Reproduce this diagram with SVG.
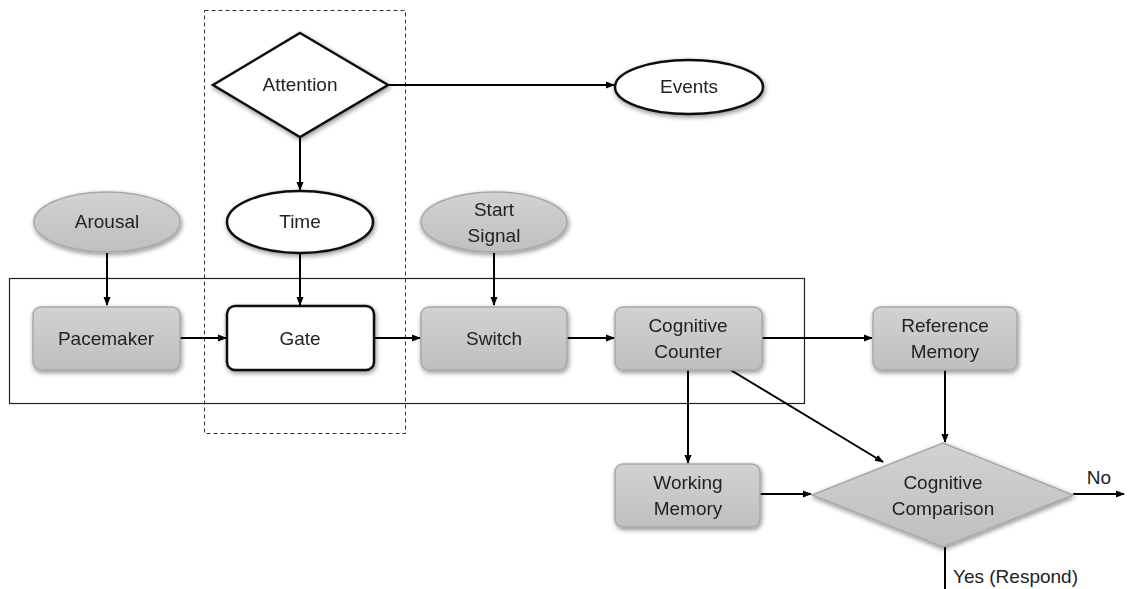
<svg xmlns="http://www.w3.org/2000/svg" width="1128" height="589" viewBox="0 0 1128 589">
<style>
text{font-family:"Liberation Sans",Arial,sans-serif;font-size:19px;fill:#222;text-anchor:middle}
.g{fill:url(#gg);stroke:#a8a8a8;stroke-width:1.5}
.w{fill:#fff;stroke:#111;stroke-width:2.5}
.c{stroke:#000;stroke-width:2;fill:none}
.arr{marker-end:url(#ah)}
</style>
<defs>
<linearGradient id="gg" x1="0" y1="0" x2="0" y2="1">
<stop offset="0" stop-color="#d2d2d2"/><stop offset="1" stop-color="#bfbfbf"/>
</linearGradient>
<filter id="sh" x="-20%" y="-20%" width="140%" height="150%">
<feGaussianBlur in="SourceAlpha" stdDeviation="2.5"/>
<feOffset dx="1" dy="2" result="b"/>
<feComponentTransfer><feFuncA type="linear" slope="0.45"/></feComponentTransfer>
<feMerge><feMergeNode/><feMergeNode in="SourceGraphic"/></feMerge>
</filter>
<marker id="ah" markerWidth="9" markerHeight="8" refX="8" refY="4" orient="auto" markerUnits="userSpaceOnUse">
<path d="M0,0.5 L9,4 L0,7.5 Z" fill="#000"/>
</marker>
</defs>
<rect width="1128" height="589" fill="#fff"/>
<g id="frames">
<rect x="204.5" y="10.5" width="201" height="423" fill="none" stroke="#333" stroke-width="1" stroke-dasharray="4,3"/>
<rect x="9.5" y="278.5" width="795" height="125" fill="none" stroke="#222" stroke-width="1.2"/>
</g>
<g id="connectors">
<line class="c arr" x1="388" y1="85" x2="614" y2="85"/>
<line class="c arr" x1="300" y1="137" x2="300" y2="190"/>
<line class="c arr" x1="107" y1="253" x2="107" y2="305"/>
<line class="c arr" x1="300" y1="253" x2="300" y2="305"/>
<line class="c arr" x1="494" y1="253" x2="494" y2="305"/>
<line class="c arr" x1="180" y1="338" x2="226" y2="338"/>
<line class="c arr" x1="374" y1="338" x2="420" y2="338"/>
<line class="c arr" x1="567" y1="338" x2="614" y2="338"/>
<line class="c arr" x1="762" y1="338" x2="872" y2="338"/>
<line class="c arr" x1="945" y1="370" x2="945" y2="442"/>
<line class="c arr" x1="688" y1="370" x2="688" y2="463"/>
<line class="c arr" x1="729" y1="369" x2="883" y2="462"/>
<line class="c arr" x1="760" y1="494" x2="811" y2="494"/>
<line class="c arr" x1="1073" y1="494" x2="1124" y2="494"/>
<line class="c" x1="945" y1="547" x2="945" y2="589"/>
<text x="1099" y="484" style="text-anchor:middle">No</text>
<text x="953" y="583" style="text-anchor:start">Yes (Respond)</text>
</g>
<g id="attention" filter="url(#sh)">
<polygon class="w" points="300,33 388,85 300,137 213,85"/>
<text x="300" y="91">Attention</text>
</g>
<g id="events" filter="url(#sh)">
<ellipse class="w" cx="689" cy="87" rx="74" ry="27"/>
<text x="689" y="93">Events</text>
</g>
<g id="arousal" filter="url(#sh)">
<ellipse class="g" cx="107" cy="222" rx="73" ry="30"/>
<text x="107" y="228">Arousal</text>
</g>
<g id="time" filter="url(#sh)">
<ellipse class="w" cx="300" cy="222" rx="73" ry="31"/>
<text x="300" y="228">Time</text>
</g>
<g id="startsignal" filter="url(#sh)">
<ellipse class="g" cx="494" cy="222" rx="73" ry="30"/>
<text x="494" y="216">Start</text>
<text x="494" y="242">Signal</text>
</g>
<g id="pacemaker" filter="url(#sh)">
<rect class="g" x="33" y="307" width="147" height="63" rx="8"/>
<text x="106" y="345">Pacemaker</text>
</g>
<g id="gate" filter="url(#sh)">
<rect class="w" x="227" y="306" width="147" height="64" rx="8"/>
<text x="300" y="345">Gate</text>
</g>
<g id="switch" filter="url(#sh)">
<rect class="g" x="421" y="307" width="146" height="63" rx="8"/>
<text x="494" y="345">Switch</text>
</g>
<g id="counter" filter="url(#sh)">
<rect class="g" x="615" y="307" width="147" height="63" rx="8"/>
<text x="688" y="332">Cognitive</text>
<text x="688" y="358">Counter</text>
</g>
<g id="refmem" filter="url(#sh)">
<rect class="g" x="873" y="307" width="144" height="63" rx="8"/>
<text x="945" y="332">Reference</text>
<text x="945" y="358">Memory</text>
</g>
<g id="workmem" filter="url(#sh)">
<rect class="g" x="615" y="464" width="145" height="63" rx="8"/>
<text x="688" y="489">Working</text>
<text x="688" y="515">Memory</text>
</g>
<g id="comparison" filter="url(#sh)">
<polygon class="g" points="943,443 1073,495 943,547 812,495"/>
<text x="943" y="489">Cognitive</text>
<text x="943" y="515">Comparison</text>
</g>
</svg>
